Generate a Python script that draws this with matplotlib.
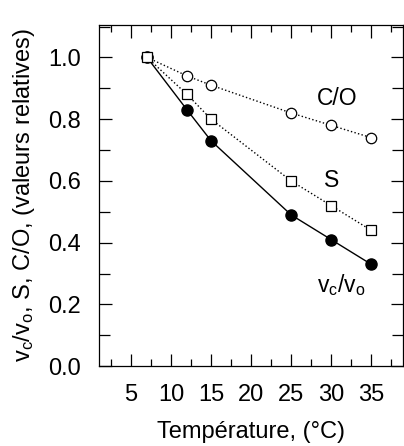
import matplotlib
matplotlib.use('Agg')
import matplotlib.pyplot as plt
from matplotlib.ticker import MultipleLocator

plt.rcParams['font.family'] = ['Liberation Sans', 'DejaVu Sans']
plt.rcParams['mathtext.default'] = 'regular'

temperature = [7, 12, 15, 25, 30, 35]
co_ratio = [1.0, 0.94, 0.91, 0.82, 0.78, 0.74]
s_ratio = [1.0, 0.88, 0.80, 0.60, 0.52, 0.44]
vc_vo = [1.0, 0.83, 0.73, 0.49, 0.41, 0.33]

fig = plt.figure(figsize=(4.04, 4.46), dpi=100)
ax = fig.add_axes([0.245, 0.179, 0.753, 0.765])

ax.plot(temperature, vc_vo, color='black', linestyle='-', linewidth=1,
        marker='o', markersize=8, markerfacecolor='black', markeredgecolor='black',
        zorder=3)
ax.plot(temperature, co_ratio, color='black', linestyle=':', linewidth=1,
        marker='o', markersize=7.5, markerfacecolor='white', markeredgecolor='black',
        markeredgewidth=0.9, zorder=4)
ax.plot(temperature, s_ratio, color='black', linestyle=':', linewidth=1,
        marker='s', markersize=6.5, markerfacecolor='white', markeredgecolor='black',
        markeredgewidth=0.9, zorder=5)

ax.text(30.75, 0.866, 'C/O', fontsize=16.5, ha='center', va='center')
ax.text(30.0, 0.602, 'S', fontsize=16.5, ha='center', va='center')
ax.text(31.25, 0.262, 'v$_c$/v$_o$', fontsize=16.5, ha='center', va='center')

ax.set_xlim(1, 39)
ax.set_ylim(0, 1.105)
ax.xaxis.set_major_locator(MultipleLocator(5))
ax.xaxis.set_minor_locator(MultipleLocator(2.5))
ax.yaxis.set_major_locator(MultipleLocator(0.2))
ax.yaxis.set_minor_locator(MultipleLocator(0.1))
ax.set_xticks([5, 10, 15, 20, 25, 30, 35])
ax.yaxis.set_major_formatter(matplotlib.ticker.FormatStrFormatter('%.1f'))

ax.tick_params(which='both', direction='in', top=True, right=True,
               labelsize=17, width=0.9, pad=13)
ax.tick_params(which='major', length=9)
ax.tick_params(which='minor', length=5)
ax.tick_params(axis='y', which='minor', length=8)

for sp in ax.spines.values():
    sp.set_linewidth(0.9)

ax.set_xlabel('Température, (°C)', fontsize=17, labelpad=10.5)
ax.set_ylabel('v$_c$/v$_o$, S, C/O, (valeurs relatives)', fontsize=17, labelpad=8)

fig.savefig('out.png', dpi=100)
